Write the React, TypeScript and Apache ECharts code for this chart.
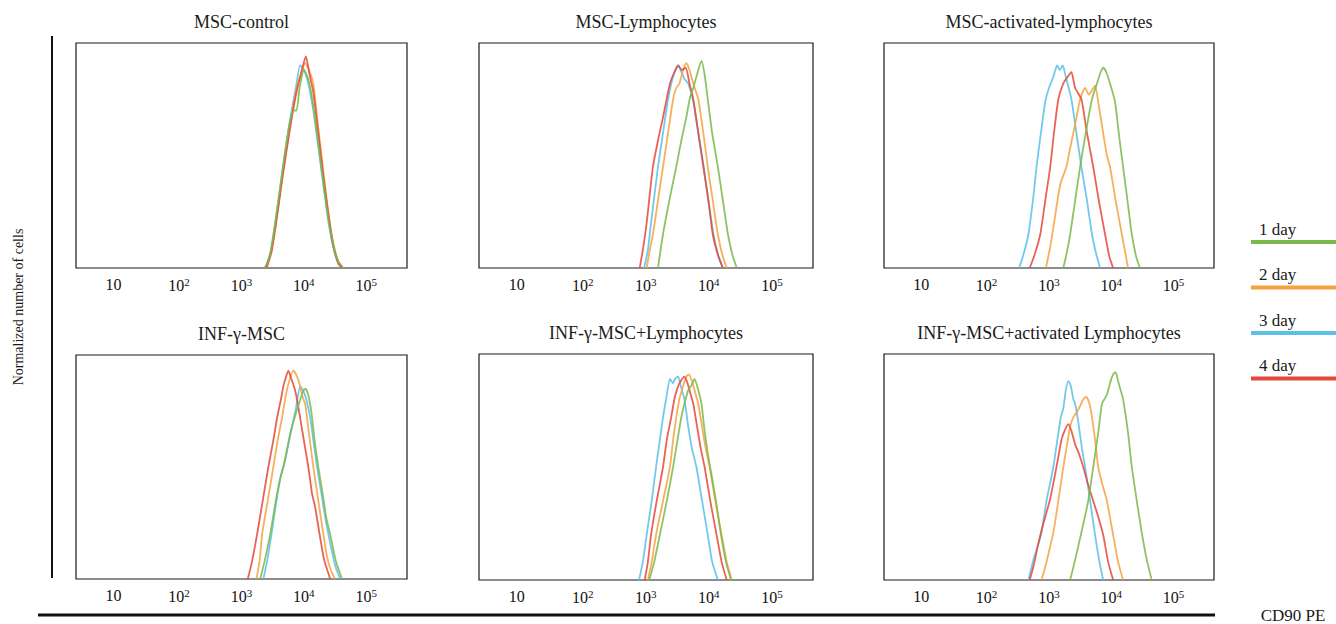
import React, { useEffect, useRef } from 'react';
import * as echarts from 'echarts';

const FONT = '"Liberation Serif", "DejaVu Serif", serif';

const panelTitles = [
  'MSC-control',
  'MSC-Lymphocytes',
  'MSC-activated-lymphocytes',
  'INF-γ-MSC',
  'INF-γ-MSC+Lymphocytes',
  'INF-γ-MSC+activated Lymphocytes',
];
const dayNames = ['1 day', '2 day', '3 day', '4 day'];
const dayColors = ['#7ab84a', '#f4a23e', '#5bbfe8', '#e5473a'];
const xTickValues = [1, 2, 3, 4, 5];
const xTickExponents = ['', '2', '3', '4', '5'];
const yAxisLabel = 'Normalized number of cells';
const xAxisLabel = 'CD90 PE';

// x = log10(CD90 PE), y = normalized count (%)
const p1d1 = [[3.42,0],[3.5,5],[3.58,18],[3.66,34],[3.74,50],[3.82,64],[3.88,70],[3.93,70],[3.98,80],[4.05,88],[4.12,84],[4.2,72],[4.28,55],[4.36,38],[4.44,22],[4.52,10],[4.6,3],[4.68,0]];
const p1d2 = [[3.45,0],[3.53,8],[3.61,22],[3.69,38],[3.77,53],[3.85,67],[3.93,80],[4.0,86],[4.07,91],[4.13,88],[4.2,82],[4.28,62],[4.36,43],[4.44,25],[4.52,11],[4.6,3],[4.68,0]];
const p1d3 = [[3.44,0],[3.52,8],[3.6,22],[3.68,38],[3.76,54],[3.84,68],[3.92,80],[3.99,90],[4.05,88],[4.12,82],[4.2,70],[4.28,54],[4.36,37],[4.44,21],[4.52,9],[4.6,2],[4.66,0]];
const p1d4 = [[3.45,0],[3.53,7],[3.61,21],[3.69,37],[3.77,52],[3.85,66],[3.93,78],[4.0,86],[4.08,94],[4.14,86],[4.2,78],[4.28,60],[4.36,41],[4.44,24],[4.52,10],[4.6,2],[4.66,0]];

const p2d1 = [[3.24,0],[3.32,15],[3.42,30],[3.53,45],[3.62,58],[3.69,67],[3.75,76],[3.8,80],[3.86,86],[3.93,92],[3.98,86],[4.03,75],[4.1,60],[4.19,45],[4.27,30],[4.35,15],[4.42,6],[4.49,0]];
const p2d2 = [[3.06,0],[3.11,8],[3.16,15],[3.24,30],[3.32,45],[3.4,60],[3.48,75],[3.53,80],[3.58,82],[3.64,88],[3.69,91],[3.74,88],[3.8,82],[3.88,75],[3.96,60],[4.03,45],[4.11,30],[4.19,15],[4.26,6],[4.33,0]];
const p2d3 = [[3.02,0],[3.08,8],[3.13,20],[3.24,45],[3.32,60],[3.4,75],[3.48,85],[3.56,90],[3.6,88],[3.66,84],[3.72,82],[3.8,74],[3.88,60],[3.96,46],[4.04,30],[4.12,15],[4.2,5],[4.27,0]];
const p2d4 = [[2.95,0],[3.0,8],[3.06,20],[3.16,45],[3.25,58],[3.32,67],[3.43,82],[3.5,87],[3.56,90],[3.62,88],[3.68,89],[3.74,82],[3.8,75],[3.88,60],[3.96,45],[4.04,30],[4.11,15],[4.19,6],[4.27,0]];

const p3d1 = [[3.28,0],[3.33,6],[3.39,15],[3.47,30],[3.55,45],[3.64,60],[3.74,75],[3.82,82],[3.88,87],[3.92,89],[3.97,87],[4.03,82],[4.11,74],[4.17,60],[4.24,45],[4.31,30],[4.38,15],[4.45,5],[4.51,0]];
const p3d2 = [[3.0,0],[3.06,8],[3.12,18],[3.23,37],[3.33,45],[3.38,52],[3.44,60],[3.5,68],[3.55,75],[3.63,80],[3.69,77],[3.74,79],[3.79,81],[3.85,72],[3.92,60],[3.98,50],[4.03,45],[4.12,30],[4.22,15],[4.28,6],[4.32,0]];
const p3d3 = [[2.57,0],[2.64,6],[2.72,15],[2.8,32],[2.85,45],[2.92,60],[2.99,74],[3.05,80],[3.12,85],[3.18,90],[3.22,88],[3.27,90],[3.32,85],[3.41,75],[3.49,60],[3.57,45],[3.66,30],[3.74,15],[3.81,6],[3.87,0]];
const p3d4 = [[2.74,0],[2.82,6],[2.91,15],[2.99,30],[3.07,45],[3.13,60],[3.2,75],[3.28,82],[3.35,85],[3.41,87],[3.47,80],[3.57,75],[3.66,60],[3.76,45],[3.85,30],[3.95,15],[4.02,5],[4.08,0]];

const p4d1 = [[3.35,0],[3.42,8],[3.51,20],[3.6,35],[3.67,45],[3.72,50],[3.78,58],[3.83,65],[3.9,72],[3.99,80],[4.04,84],[4.07,85],[4.11,83],[4.15,78],[4.18,72],[4.22,62],[4.28,50],[4.35,38],[4.41,27],[4.47,20],[4.56,8],[4.66,0]];
const p4d2 = [[3.29,0],[3.34,8],[3.38,20],[3.47,35],[3.56,50],[3.63,62],[3.7,72],[3.76,82],[3.82,89],[3.88,93],[3.93,91],[3.98,87],[4.02,82],[4.07,78],[4.13,65],[4.2,50],[4.28,35],[4.35,22],[4.42,10],[4.48,4],[4.55,0]];
const p4d3 = [[3.4,0],[3.46,8],[3.53,20],[3.61,35],[3.68,46],[3.74,52],[3.8,60],[3.86,68],[3.92,76],[3.99,86],[4.04,84],[4.09,80],[4.15,72],[4.2,62],[4.26,50],[4.33,38],[4.4,26],[4.47,16],[4.55,6],[4.63,0]];
const p4d4 = [[3.15,0],[3.22,8],[3.3,20],[3.39,35],[3.48,50],[3.56,62],[3.62,72],[3.68,80],[3.72,86],[3.76,90],[3.8,93],[3.84,90],[3.9,85],[3.94,80],[4.0,70],[4.06,60],[4.12,50],[4.18,38],[4.23,32],[4.3,20],[4.37,9],[4.47,0]];

const p5d1 = [[3.1,0],[3.18,8],[3.27,20],[3.38,35],[3.48,50],[3.55,62],[3.61,72],[3.66,78],[3.72,84],[3.77,86],[3.82,89],[3.87,85],[3.93,78],[3.98,66],[4.03,56],[4.08,48],[4.16,35],[4.24,20],[4.32,8],[4.4,0]];
const p5d2 = [[3.08,0],[3.14,8],[3.21,20],[3.32,35],[3.43,50],[3.48,62],[3.53,72],[3.58,80],[3.64,86],[3.69,90],[3.73,91],[3.78,88],[3.84,82],[3.88,78],[3.95,66],[4.0,58],[4.06,50],[4.15,35],[4.25,20],[4.33,8],[4.41,0]];
const p5d3 = [[2.94,0],[3.0,8],[3.06,20],[3.14,35],[3.21,50],[3.27,62],[3.32,72],[3.38,82],[3.43,89],[3.48,87],[3.51,89],[3.56,90],[3.6,86],[3.66,80],[3.72,68],[3.78,58],[3.85,50],[3.94,35],[4.03,20],[4.1,8],[4.19,0]];
const p5d4 = [[3.03,0],[3.08,8],[3.13,20],[3.22,35],[3.32,50],[3.38,62],[3.45,72],[3.5,80],[3.55,85],[3.6,88],[3.66,90],[3.71,87],[3.76,82],[3.8,78],[3.86,68],[3.92,58],[3.98,50],[4.07,35],[4.17,20],[4.25,8],[4.33,0]];

const p6d1 = [[3.39,0],[3.47,9],[3.57,21],[3.68,35],[3.76,50],[3.84,65],[3.9,78],[3.94,80],[3.98,82],[4.04,88],[4.08,91],[4.12,92],[4.16,88],[4.2,84],[4.24,80],[4.32,65],[4.38,50],[4.46,35],[4.54,21],[4.62,9],[4.7,0]];
const p6d2 = [[2.93,0],[3.01,8],[3.07,15],[3.12,21],[3.2,35],[3.28,50],[3.34,60],[3.39,68],[3.44,72],[3.49,74],[3.55,77],[3.6,80],[3.65,81],[3.7,78],[3.74,72],[3.79,62],[3.84,50],[3.91,42],[3.98,35],[4.08,20],[4.16,8],[4.24,0]];
const p6d3 = [[2.72,0],[2.8,9],[2.87,15],[2.93,21],[3.01,35],[3.12,50],[3.2,65],[3.24,72],[3.28,76],[3.32,84],[3.36,88],[3.4,86],[3.44,80],[3.47,78],[3.52,70],[3.58,58],[3.63,50],[3.71,35],[3.79,20],[3.86,8],[3.92,0]];
const p6d4 = [[2.74,0],[2.8,6],[2.87,15],[2.93,22],[2.99,28],[3.07,36],[3.17,50],[3.25,62],[3.3,66],[3.36,69],[3.41,66],[3.47,60],[3.53,56],[3.6,50],[3.68,42],[3.76,35],[3.84,28],[3.92,20],[4.0,8],[4.08,0]];

const panelCurves = [
  [p1d1, p1d2, p1d3, p1d4],
  [p2d1, p2d2, p2d3, p2d4],
  [p3d1, p3d2, p3d3, p3d4],
  [p4d1, p4d2, p4d3, p4d4],
  [p5d1, p5d2, p5d3, p5d4],
  [p6d1, p6d2, p6d3, p6d4],
];

const gridBoxes = [
  { left: 76, top: 43, width: 331, height: 225 },
  { left: 479, top: 43, width: 334, height: 225 },
  { left: 884, top: 43, width: 330, height: 225 },
  { left: 76, top: 355, width: 331, height: 224 },
  { left: 479, top: 354, width: 334, height: 226 },
  { left: 884, top: 354, width: 330, height: 226 },
];
const drawOrder = [2, 1, 3, 0];

export default function App() {
  const ref = useRef<HTMLDivElement>(null);
  useEffect(() => {
    const chart = echarts.init(ref.current as HTMLDivElement, null, { renderer: 'svg' });
    const grid = gridBoxes.map((g) => ({
      ...g,
      show: true,
      borderColor: '#1a1a1a',
      borderWidth: 1.2,
      backgroundColor: 'transparent',
      containLabel: false,
    }));
    const xAxis = gridBoxes.map((_, i) => ({
      gridIndex: i,
      type: 'value',
      min: 0.4,
      max: 5.7,
      axisLine: { show: false },
      axisTick: { show: false },
      splitLine: { show: false },
      axisLabel: {
        customValues: xTickValues,
        margin: 8,
        color: '#111',
        fontFamily: FONT,
        fontSize: 16,
        formatter: (v: number) => {
          const idx = xTickValues.indexOf(Math.round(v));
          const e = xTickExponents[idx] || '';
          return e ? `{p|}{b|10}{s|${e}}` : '{b|10}';
        },
        rich: {
          p: { width: 6, fontSize: 16, verticalAlign: 'bottom' },
          b: { fontFamily: FONT, fontSize: 16, color: '#111', verticalAlign: 'bottom' },
          s: { fontFamily: FONT, fontSize: 11, color: '#111', verticalAlign: 'bottom', padding: [0, 0, 6, 0] },
        },
      },
    }));
    const yAxis = gridBoxes.map((_, i) => ({
      gridIndex: i,
      type: 'value',
      min: 0,
      max: 100,
      show: false,
    }));
    const series: any[] = [];
    panelCurves.forEach((curves, pi) => {
      drawOrder.forEach((di) => {
        series.push({
          type: 'line',
          name: dayNames[di],
          xAxisIndex: pi,
          yAxisIndex: pi,
          data: curves[di],
          symbol: 'none',
          smooth: 0.2,
          silent: true,
          lineStyle: { color: dayColors[di], width: 1.8, opacity: 0.85 },
        });
      });
    });

    const graphic: any[] = [];
    gridBoxes.forEach((g, i) => {
      graphic.push({
        type: 'text',
        x: g.left + g.width / 2,
        y: g.top - 21,
        style: {
          text: panelTitles[i],
          fontFamily: FONT,
          fontSize: 18,
          fill: '#1a1a1a',
          textAlign: 'center',
          textVerticalAlign: 'middle',
        },
      });
    });
    graphic.push({
      type: 'text',
      x: 18,
      y: 307,
      rotation: Math.PI / 2,
      style: {
        text: yAxisLabel,
        fontFamily: FONT,
        fontSize: 14,
        fill: '#1a1a1a',
        textAlign: 'center',
        textVerticalAlign: 'middle',
      },
    });
    graphic.push({
      type: 'line',
      shape: { x1: 52, y1: 36, x2: 52, y2: 578 },
      style: { stroke: '#111', lineWidth: 2 },
    });
    graphic.push({
      type: 'line',
      shape: { x1: 38, y1: 615, x2: 1215, y2: 615 },
      style: { stroke: '#111', lineWidth: 3 },
    });
    graphic.push({
      type: 'text',
      x: 1293,
      y: 615,
      style: {
        text: xAxisLabel,
        fontFamily: FONT,
        fontSize: 17,
        fill: '#1a1a1a',
        textAlign: 'center',
        textVerticalAlign: 'middle',
      },
    });
    dayNames.forEach((name, i) => {
      const ly = 242 + i * 45.5;
      graphic.push({
        type: 'text',
        x: 1259,
        y: ly - 13,
        style: {
          text: name,
          fontFamily: FONT,
          fontSize: 17,
          fill: '#1a1a1a',
          textAlign: 'left',
          textVerticalAlign: 'middle',
        },
      });
      graphic.push({
        type: 'line',
        shape: { x1: 1251, y1: ly, x2: 1336, y2: ly },
        style: { stroke: dayColors[i], lineWidth: 4 },
      });
    });

    chart.setOption({
      animation: false,
      backgroundColor: '#ffffff',
      grid,
      xAxis,
      yAxis,
      series,
      graphic,
    });
    return () => chart.dispose();
  }, []);
  return (
    <div
      ref={ref}
      style={{ position: 'absolute', left: 0, top: 0, width: 1336, height: 624, background: '#fff' }}
    />
  );
}
